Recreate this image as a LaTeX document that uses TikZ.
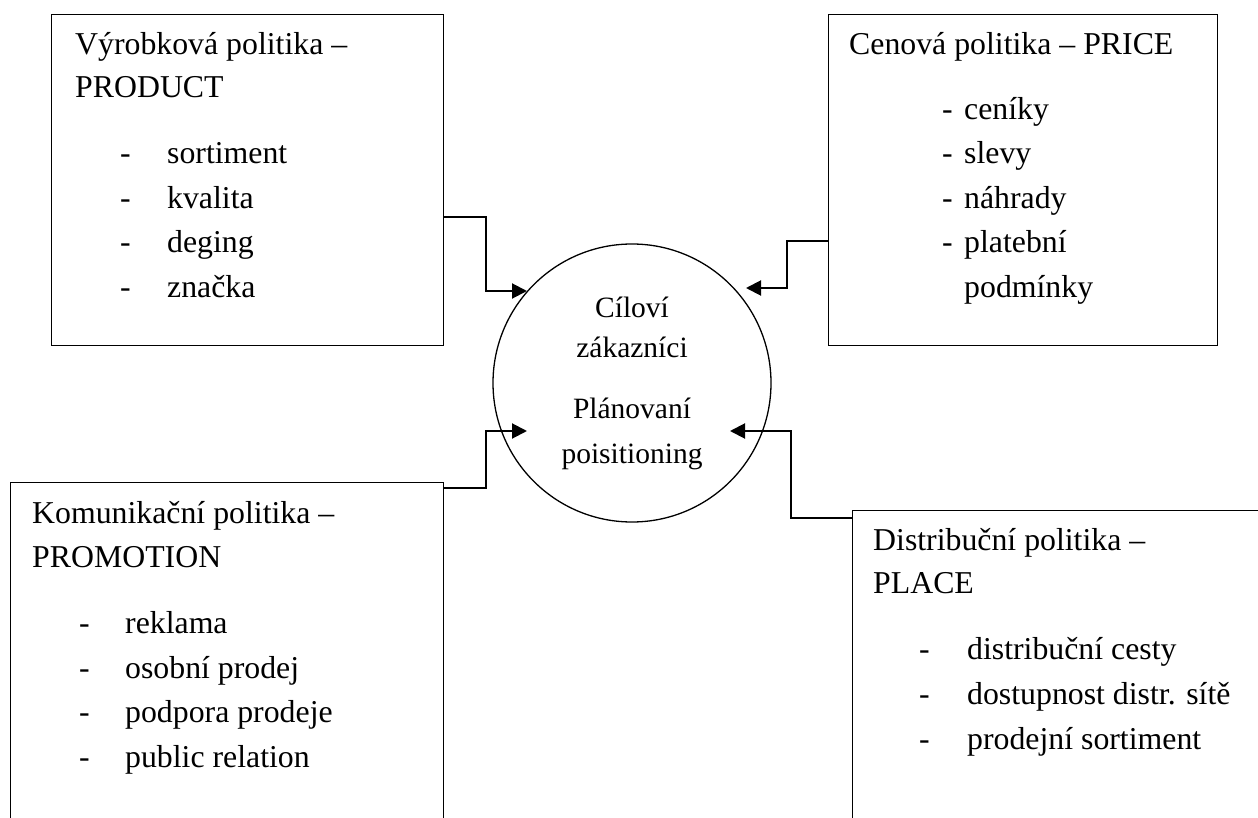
\documentclass[tikz,border=0pt]{standalone}
\usepackage{fontspec}
\setmainfont{Liberation Serif}
\usetikzlibrary{arrows.meta}
\tikzset{box/.style={draw,rectangle,line width=1.3pt,anchor=north west,inner sep=0pt}}
\tikzset{txt/.style={anchor=base west,inner sep=0pt,font=\fontsize{31.8}{44}\selectfont}}
\tikzset{mid/.style={anchor=base,inner sep=0pt,font=\fontsize{29.5}{44}\selectfont}}
\tikzset{conn/.style={line width=2pt,-{Triangle[length=15pt,width=15pt]}}}
\newcommand{\itm}[2][47pt]{\makebox[#1][l]{-}#2}

\begin{document}
\begin{tikzpicture}[x=1pt,y=-1pt]
    \useasboundingbox (0,0) rectangle (1258,818);

    \node[box,minimum width=392pt,minimum height=331pt] (prod) at (51,14) {};
    \node[box,minimum width=389pt,minimum height=331pt] (price) at (828,14) {};
    \node[box,minimum width=433pt,minimum height=400pt] (promo) at (10,482) {};
    \node[box,minimum width=450pt,minimum height=400pt] (place) at (852,510) {};
    \node[draw,circle,line width=1.3pt,minimum size=278pt,inner sep=0pt] (target) at (632,383) {};

    \node[txt] (prodA) at (75,55) {Výrobková politika –};
    \node[txt] (prodB) at (75,98) {PRODUCT};
    \node[txt] (prod1) at (120,164) {\itm{sortiment}};
    \node[txt] (prod2) at (120,209) {\itm{kvalita}};
    \node[txt] (prod3) at (120,253) {\itm{deging}};
    \node[txt] (prod4) at (120,298) {\itm{značka}};

    \node[txt] (priceA) at (849,55) {Cenová politika – PRICE};
    \node[txt] (price1) at (942,120) {\itm[22pt]{ceníky}};
    \node[txt] (price2) at (942,164) {\itm[22pt]{slevy}};
    \node[txt] (price3) at (942,209) {\itm[22pt]{náhrady}};
    \node[txt] (price4) at (942,253) {\itm[22pt]{platební}};
    \node[txt] (price5) at (964,298) {podmínky};

    \node[txt] (promoA) at (32,523) {Komunikační politika –};
    \node[txt] (promoB) at (32,567) {PROMOTION};
    \node[txt] (promo1) at (79,633) {\itm[46pt]{reklama}};
    \node[txt] (promo2) at (79,678) {\itm[46pt]{osobní prodej}};
    \node[txt] (promo3) at (79,722) {\itm[46pt]{podpora prodeje}};
    \node[txt] (promo4) at (79,767) {\itm[46pt]{public relation}};

    \node[txt] (placeA) at (873,550) {Distribuční politika –};
    \node[txt] (placeB) at (873,593) {PLACE};
    \node[txt] (place1) at (919,659) {\itm[48pt]{distribuční cesty}};
    \node[txt] (place2) at (919,704) {\itm[48pt]{dostupnost distr. sítě}};
    \node[txt] (place3) at (919,749) {\itm[48pt]{prodejní sortiment}};

    \node[mid] (cilA) at (632,317) {Cíloví};
    \node[mid] (cilB) at (632,357) {zákazníci};
    \node[mid] (planA) at (632,418) {Plánovaní};
    \node[mid] (planB) at (632,463) {poisitioning};

    \coordinate (prodin) at (527,291);
    \coordinate (pricein) at (746,288);
    \coordinate (promoin) at (527,431);
    \coordinate (placein) at (730,431);

    \draw[conn] (prod.east |- 0,217) -| (486,291) -- (prodin);
    \draw[conn] (price.west |- 0,241) -| (787,288) -- (pricein);
    \draw[conn] (promo.east |- 0,488) -| (486,431) -- (promoin);
    \draw[conn] (place.west |- 0,518) -| (791,431) -- (placein);
\end{tikzpicture}
\end{document}
